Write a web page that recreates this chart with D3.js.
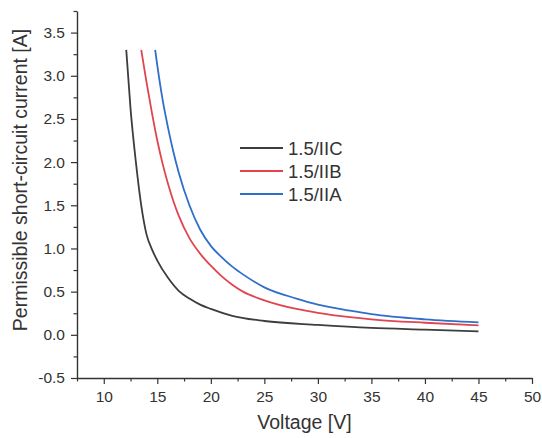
<!DOCTYPE html>
<html>
<head>
<meta charset="utf-8">
<script src="https://cdn.jsdelivr.net/npm/d3@7"></script>
<style>
  body { margin: 0; background: #fff; }
  svg text { font-family: Arial, "Liberation Sans", sans-serif; fill: #333; }
</style>
</head>
<body>
<svg></svg>
<script>
// chart size
const width = 542;
const height = 438;

// data
const iicVolt = [12.1, 12.5, 13, 13.5, 14, 14.5, 15, 16, 17, 18, 19, 20, 22, 25, 30, 35, 40, 45];
const iicAmp  = [3.3, 2.62, 2.0, 1.5, 1.16, 0.99, 0.86, 0.66, 0.51, 0.42, 0.35, 0.30, 0.22, 0.16, 0.115, 0.08, 0.06, 0.04];

const iibVolt = [13.5, 14, 14.5, 15, 15.5, 16, 16.5, 17, 18, 19, 20, 21, 22, 23, 25, 28, 30, 33, 35, 40, 45];
const iibAmp  = [3.3, 2.92, 2.57, 2.25, 1.98, 1.75, 1.55, 1.38, 1.12, 0.94, 0.80, 0.68, 0.58, 0.50, 0.40, 0.30, 0.255, 0.205, 0.18, 0.14, 0.11];

const iiaVolt = [14.8, 15, 15.5, 16, 16.5, 17, 18, 19, 20, 21, 22, 23, 25, 28, 30, 33, 35, 40, 45];
const iiaAmp  = [3.3, 3.12, 2.72, 2.4, 2.12, 1.88, 1.5, 1.22, 1.03, 0.90, 0.79, 0.70, 0.55, 0.42, 0.35, 0.28, 0.24, 0.18, 0.145];

const seriesNames  = ["1.5/IIC", "1.5/IIB", "1.5/IIA"];
const seriesColors = ["#3d3d3d", "#e0454f", "#2f6fca"];

const xTicks = [10, 15, 20, 25, 30, 35, 40, 45, 50];
const yTicks = [-0.5, 0, 0.5, 1, 1.5, 2, 2.5, 3, 3.5];

const series = [
  { name: seriesNames[0], color: seriesColors[0], pts: iicVolt.map((v, i) => [v, iicAmp[i]]) },
  { name: seriesNames[1], color: seriesColors[1], pts: iibVolt.map((v, i) => [v, iibAmp[i]]) },
  { name: seriesNames[2], color: seriesColors[2], pts: iiaVolt.map((v, i) => [v, iiaAmp[i]]) }
];

const svg = d3.select('svg')
  .attr('width', width)
  .attr('height', height);

// plot area
const plotL = 77, plotR = 532, plotT = 11, plotB = 378;

const x = d3.scaleLinear().domain([7.5, 50]).range([plotL, plotR]);
const y = d3.scaleLinear().domain([-0.5, 3.75]).range([plotB, plotT]);

// minor ticks
const xMinor = d3.range(7.5, 50.01, 2.5).filter(v => !xTicks.includes(v));
const yMinor = d3.range(-0.25, 3.76, 0.5);

const axisColor = '#333';

svg.append('g')
  .attr('transform', `translate(0,${plotB})`)
  .call(d3.axisBottom(x).tickValues(xMinor).tickSize(3.5).tickFormat(''))
  .call(g => g.select('.domain').remove())
  .selectAll('line').attr('stroke', axisColor).attr('stroke-width', 1.2);

svg.append('g')
  .attr('transform', `translate(${plotL},0)`)
  .call(d3.axisLeft(y).tickValues(yMinor).tickSize(3.5).tickFormat(''))
  .call(g => g.select('.domain').remove())
  .selectAll('line').attr('stroke', axisColor).attr('stroke-width', 1.2);

const xAxis = svg.append('g')
  .attr('transform', `translate(0,${plotB})`)
  .call(d3.axisBottom(x).tickValues(xTicks).tickSize(6).tickSizeOuter(0).tickPadding(7).tickFormat(d3.format('d')));
xAxis.select('.domain').attr('stroke', axisColor).attr('stroke-width', 1.4);
xAxis.selectAll('line').attr('stroke', axisColor).attr('stroke-width', 1.2);
xAxis.selectAll('text').attr('font-size', 15.5).attr('fill', '#333');

// plain hyphen for negatives, as in the original
const yFmt = v => d3.format('.1f')(v).replace('\u2212', '-');

const yAxis = svg.append('g')
  .attr('transform', `translate(${plotL},0)`)
  .call(d3.axisLeft(y).tickValues(yTicks).tickSize(6).tickSizeOuter(0).tickPadding(6).tickFormat(yFmt));
yAxis.select('.domain').attr('stroke', axisColor).attr('stroke-width', 1.4);
yAxis.selectAll('line').attr('stroke', axisColor).attr('stroke-width', 1.2);
yAxis.selectAll('text').attr('font-size', 15.5).attr('fill', '#333');

// axis titles
svg.append('text')
  .attr('x', (plotL + plotR) / 2)
  .attr('y', 429)
  .attr('text-anchor', 'middle')
  .attr('font-size', 19.5)
  .text('Voltage [V]');

svg.append('text')
  .attr('transform', 'translate(27,180) rotate(-90)')
  .attr('text-anchor', 'middle')
  .attr('font-size', 19.5)
  .text('Permissible short-circuit current [A]');

// curves
const line = d3.line()
  .x(d => x(d[0]))
  .y(d => y(d[1]))
  .curve(d3.curveMonotoneX);

svg.append('g')
  .selectAll('path')
  .data(series)
  .join('path')
  .attr('d', d => line(d.pts))
  .attr('fill', 'none')
  .attr('stroke', d => d.color)
  .attr('stroke-width', 1.8);

// legend
const legend = svg.append('g')
  .attr('transform', 'translate(240,148)');

const item = legend.selectAll('g')
  .data(series)
  .join('g')
  .attr('transform', (d, i) => `translate(0,${i * 23})`);

item.append('line')
  .attr('x1', 0).attr('x2', 43)
  .attr('stroke', d => d.color)
  .attr('stroke-width', 1.8);

item.append('text')
  .attr('x', 48)
  .attr('y', 6.5)
  .attr('font-size', 18.5)
  .text(d => d.name);
</script>
</body>
</html>
